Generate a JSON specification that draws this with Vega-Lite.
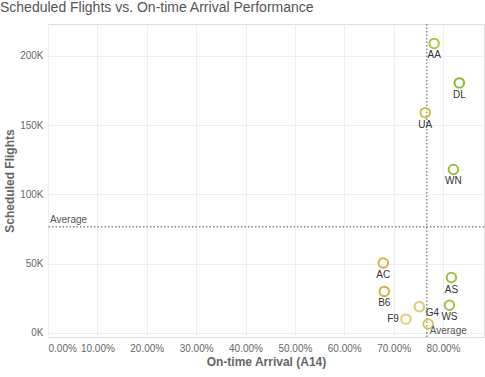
{
  "$schema": "https://vega.github.io/schema/vega-lite/v6.json",
  "autosize": "none",
  "width": 436,
  "height": 313,
  "padding": {"left": 48, "top": 24, "right": 1, "bottom": 40},
  "title": {"text": "Scheduled Flights vs. On-time Arrival Performance", "anchor": "start", "frame": "group", "dx": -48, "offset": 8, "fontSize": 14, "font": "Liberation Sans", "fontWeight": "normal", "color": "#555555"},
  "config": {
    "view": {"stroke": "#dddddd"},
    "axis": {"labelFont": "Liberation Sans", "labelFontSize": 10, "labelColor": "#666666", "titleFont": "Liberation Sans", "titleFontSize": 12, "titleColor": "#666666", "titleFontWeight": "bold", "gridColor": "#eeeeee", "domain": false, "ticks": false}
  },
  "data": {"values": [
    {"carrier": "AA", "ontime": 0.782, "flights": 209000},
    {"carrier": "DL", "ontime": 0.833, "flights": 180500},
    {"carrier": "UA", "ontime": 0.764, "flights": 159000},
    {"carrier": "WN", "ontime": 0.821, "flights": 118000},
    {"carrier": "AC", "ontime": 0.679, "flights": 50500},
    {"carrier": "AS", "ontime": 0.817, "flights": 40000},
    {"carrier": "B6", "ontime": 0.681, "flights": 30000},
    {"carrier": "WS", "ontime": 0.813, "flights": 20000},
    {"carrier": "G4", "ontime": 0.752, "flights": 19000},
    {"carrier": "F9", "ontime": 0.725, "flights": 10000},
    {"carrier": "VX", "ontime": 0.770, "flights": 6500}
  ]},
  "layer": [
    {
      "transform": [{"aggregate": [{"op": "mean", "field": "flights", "as": "avgFlightsA"}]}],
      "mark": {"type": "rule", "color": "#8a8a8a", "strokeDash": [1.5, 2], "strokeWidth": 1.5},
      "encoding": {"y": {"field": "avgFlightsA", "type": "quantitative"}}
    },
    {
      "transform": [{"aggregate": [{"op": "mean", "field": "ontime", "as": "avgOntimeA"}]}],
      "mark": {"type": "rule", "color": "#8a8a8a", "strokeDash": [1.5, 2], "strokeWidth": 1.5},
      "encoding": {"x": {"field": "avgOntimeA", "type": "quantitative"}}
    },
    {
      "mark": {"type": "point", "filled": false, "strokeWidth": 2, "size": 90, "opacity": 1},
      "encoding": {
        "x": {"field": "ontime", "type": "quantitative", "title": "On-time Arrival (A14)", "scale": {"domain": [0, 0.883], "nice": false, "zero": false}, "axis": {"format": ".2%", "values": [0, 0.1, 0.2, 0.3, 0.4, 0.5, 0.6, 0.7, 0.8], "labelFlush": true, "labelPadding": 6, "titlePadding": 3}},
        "y": {"field": "flights", "type": "quantitative", "title": "Scheduled Flights", "scale": {"domain": [-2900, 223000], "nice": false, "zero": false}, "axis": {"values": [0, 50000, 100000, 150000, 200000], "labelExpr": "datum.value / 1000 + 'K'", "labelPadding": 5, "titlePadding": 3}},
        "color": {"field": "carrier", "type": "nominal", "legend": null, "scale": {"domain": ["AA", "DL", "UA", "WN", "AC", "AS", "B6", "WS", "G4", "F9", "VX"], "range": ["#b5c23c", "#8fb733", "#c9c043", "#9dbd3b", "#d6ae3b", "#9cbd3d", "#d3b03f", "#a6be42", "#dccb66", "#e3cd72", "#d2c650"]}}
      }
    },
    {
      "transform": [{"filter": "datum.carrier != 'F9' && datum.carrier != 'G4' && datum.carrier != 'VX'"}],
      "mark": {"type": "text", "dy": 12, "fontSize": 10, "font": "Liberation Sans", "color": "#333333"},
      "encoding": {"x": {"field": "ontime", "type": "quantitative"}, "y": {"field": "flights", "type": "quantitative"}, "text": {"field": "carrier"}}
    },
    {
      "transform": [{"filter": "datum.carrier == 'F9'"}],
      "mark": {"type": "text", "dx": -13, "fontSize": 10, "font": "Liberation Sans", "color": "#333333"},
      "encoding": {"x": {"field": "ontime", "type": "quantitative"}, "y": {"field": "flights", "type": "quantitative"}, "text": {"field": "carrier"}}
    },
    {
      "transform": [{"filter": "datum.carrier == 'G4'"}],
      "mark": {"type": "text", "dx": 13, "dy": 6, "fontSize": 10, "font": "Liberation Sans", "color": "#333333"},
      "encoding": {"x": {"field": "ontime", "type": "quantitative"}, "y": {"field": "flights", "type": "quantitative"}, "text": {"field": "carrier"}}
    },
    {
      "transform": [{"aggregate": [{"op": "mean", "field": "flights", "as": "avgFlightsB"}]}],
      "mark": {"type": "text", "align": "left", "dx": 2, "dy": -7, "fontSize": 10, "font": "Liberation Sans", "color": "#555555", "text": "Average"},
      "encoding": {"y": {"field": "avgFlightsB", "type": "quantitative"}, "x": {"datum": 0, "type": "quantitative"}}
    },
    {
      "transform": [{"aggregate": [{"op": "mean", "field": "ontime", "as": "avgOntimeB"}, {"op": "min", "field": "flights", "as": "minFlights"}]}],
      "mark": {"type": "text", "align": "left", "baseline": "middle", "dx": 3, "dy": 7, "fontSize": 10, "font": "Liberation Sans", "color": "#555555", "text": "Average"},
      "encoding": {"x": {"field": "avgOntimeB", "type": "quantitative"}, "y": {"field": "minFlights", "type": "quantitative"}}
    }
  ]
}
